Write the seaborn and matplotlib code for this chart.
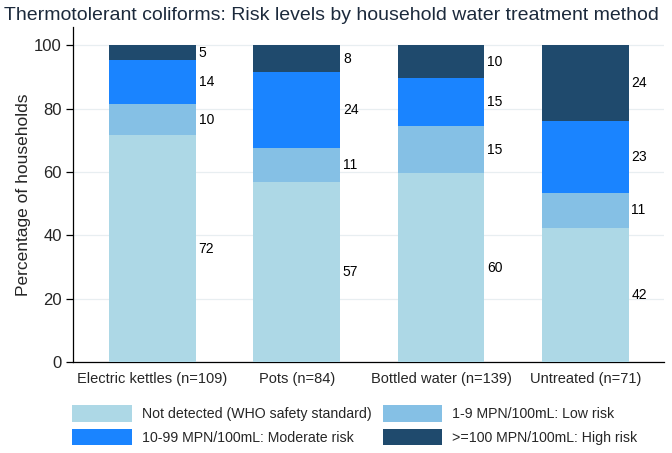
import numpy as np
import pandas as pd
import seaborn as sns
import matplotlib.pyplot as plt
from matplotlib.patches import Patch

categories = ["Electric kettles (n=109)", "Pots (n=84)", "Bottled water (n=139)", "Untreated (n=71)"]
risk_levels = ["Not detected (WHO safety standard)", "1-9 MPN/100mL: Low risk",
               "10-99 MPN/100mL: Moderate risk", ">=100 MPN/100mL: High risk"]
not_detected = [71.6, 57.0, 59.6, 42.2]
low_risk = [9.9, 10.7, 14.9, 11.3]
moderate_risk = [13.9, 23.9, 15.2, 22.6]
high_risk = [4.6, 8.4, 10.3, 23.9]
colors = ["#add8e6", "#85c0e5", "#1a84ff", "#1f4a6d"]

sns.set_style("white")
plt.rcParams['font.family'] = ['Liberation Sans', 'DejaVu Sans']

series = [not_detected, low_risk, moderate_risk, high_risk]
df = pd.DataFrame({"category": categories})
for name, vals in zip(risk_levels, series):
    df[name] = vals
cum = df[risk_levels].cumsum(axis=1)

fig = plt.figure(figsize=(6.72, 4.53), dpi=100)
ax = fig.add_axes([0.1086, 0.2009, 0.8794, 0.7395])

# draw cumulative bars from the top segment down so each covers the one above
for name, color in reversed(list(zip(risk_levels, colors))):
    sns.barplot(x=df["category"], y=cum[name], color=color, width=0.6,
                saturation=1, ax=ax, zorder=3, linewidth=0, edgecolor="none")

for i in range(len(categories)):
    for name in risk_levels:
        val = df.loc[i, name]
        ax.text(i + 0.3 + 0.02, cum.loc[i, name] - val / 2, f"{val:.0f}",
                ha="left", va="center", fontsize=10, color="black", zorder=4)

ax.set_xlim(-0.551, 3.545)
ax.set_ylim(0, 105.8)
ax.set_yticks([0, 20, 40, 60, 80, 100])
ax.yaxis.grid(True, color="#e8eef1", linewidth=0.9, zorder=0)
ax.tick_params(axis="y", length=5, width=0.9, labelsize=12, color="black", direction="out", left=True, pad=3)
ax.tick_params(axis="x", length=0, labelsize=10.5, pad=7)
for s in ["top", "right"]:
    ax.spines[s].set_visible(False)
for s in ["left", "bottom"]:
    ax.spines[s].set_color("black")
    ax.spines[s].set_linewidth(0.9)
ax.set_xlabel("")
ax.set_ylabel("Percentage of households", fontsize=12.5, labelpad=2)

fig.text(0.006, 0.985, "Thermotolerant coliforms: Risk levels by household water treatment method",
         ha="left", va="top", fontsize=14, color="#1c2a3c")

order = [0, 2, 1, 3]
handles = [Patch(facecolor=colors[k], edgecolor="none") for k in order]
labels = [risk_levels[k] for k in order]
fig.legend(handles, labels, ncol=2, loc="upper left", bbox_to_anchor=(0.099, 0.118),
           frameon=False, fontsize=10.2, handlelength=4.2, handleheight=1.4,
           handletextpad=0.7, columnspacing=0.8, labelspacing=0.5, borderaxespad=0)

fig.savefig("out.png", dpi=100)
